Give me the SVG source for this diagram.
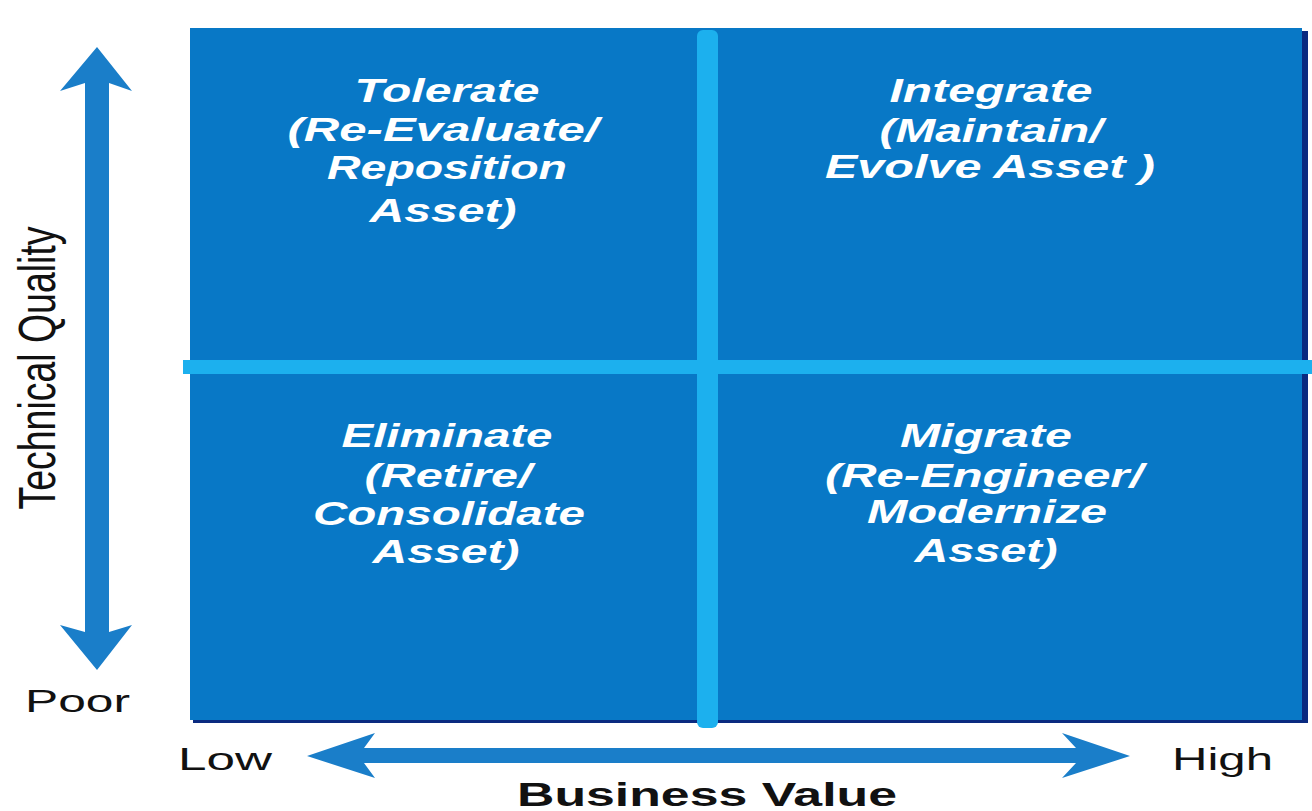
<svg xmlns="http://www.w3.org/2000/svg" width="1312" height="811" viewBox="0 0 1312 811">
<style>
.q{font-family:"Liberation Sans",Arial,sans-serif;font-weight:bold;font-style:italic;font-size:33px;fill:#ffffff;text-anchor:middle}
.lab{font-family:"Liberation Sans",Arial,sans-serif;font-size:31px;fill:#111111}
.arrow{fill:#1a7ec9}
.band{fill:#1cb0ee}
</style>
<rect x="0" y="0" width="1312" height="811" fill="#ffffff"/>
<g id="matrix">
<rect x="193" y="31" width="1115" height="692" fill="#0a2a80"/>
<rect x="190" y="28" width="1112" height="692" fill="#0878c6"/>
<rect x="697" y="30" width="21" height="698" rx="6" class="band"/>
<rect x="183" y="360" width="1129" height="14" class="band"/>
</g>
<g id="tolerate">
<text class="q" x="447" y="102" textLength="185" lengthAdjust="spacingAndGlyphs">Tolerate</text>
<text class="q" x="443" y="141" textLength="311" lengthAdjust="spacingAndGlyphs">(Re-Evaluate/</text>
<text class="q" x="447" y="179" textLength="240" lengthAdjust="spacingAndGlyphs">Reposition</text>
<text class="q" x="443" y="222" textLength="147" lengthAdjust="spacingAndGlyphs">Asset)</text>
</g>
<g id="integrate">
<text class="q" x="991" y="102" textLength="203" lengthAdjust="spacingAndGlyphs">Integrate</text>
<text class="q" x="991" y="142" textLength="223" lengthAdjust="spacingAndGlyphs">(Maintain/</text>
<text class="q" x="990" y="178" textLength="330" lengthAdjust="spacingAndGlyphs">Evolve Asset )</text>
</g>
<g id="eliminate">
<text class="q" x="447" y="447" textLength="211" lengthAdjust="spacingAndGlyphs">Eliminate</text>
<text class="q" x="448" y="487" textLength="167" lengthAdjust="spacingAndGlyphs">(Retire/</text>
<text class="q" x="449" y="525" textLength="272" lengthAdjust="spacingAndGlyphs">Consolidate</text>
<text class="q" x="446" y="563" textLength="147" lengthAdjust="spacingAndGlyphs">Asset)</text>
</g>
<g id="migrate">
<text class="q" x="986" y="447" textLength="172" lengthAdjust="spacingAndGlyphs">Migrate</text>
<text class="q" x="984" y="487" textLength="318" lengthAdjust="spacingAndGlyphs">(Re-Engineer/</text>
<text class="q" x="987" y="523" textLength="240" lengthAdjust="spacingAndGlyphs">Modernize</text>
<text class="q" x="986" y="562" textLength="143" lengthAdjust="spacingAndGlyphs">Asset)</text>
</g>
<g id="connectors">
<polygon class="arrow" points="97,47 132,91 109,83 109,632 132,625 97,670 60,625 85,632 85,83 60,91"/>
<polygon class="arrow" points="307,756 375,733 364,748 1076,748 1062,733 1130,756 1062,778 1076,763 364,763 375,778"/>
</g>
<g id="axis-labels">
<text class="lab" x="55" y="368" transform="rotate(-90 55 368)" text-anchor="middle" style="font-size:52px" textLength="283" lengthAdjust="spacingAndGlyphs">Technical Quality</text>
<text class="lab" x="25" y="712" textLength="105" lengthAdjust="spacingAndGlyphs">Poor</text>
<text class="lab" x="178" y="770" textLength="94" lengthAdjust="spacingAndGlyphs">Low</text>
<text class="lab" x="1172" y="770" textLength="101" lengthAdjust="spacingAndGlyphs">High</text>
<text class="lab" x="517" y="806" style="font-weight:bold;font-size:33px" textLength="380" lengthAdjust="spacingAndGlyphs">Business Value</text>
</g>
</svg>
